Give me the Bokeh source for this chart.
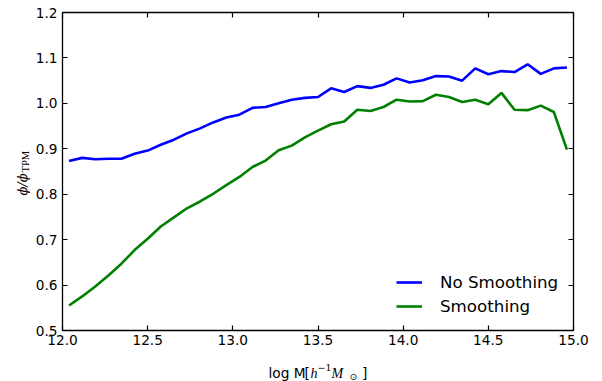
import numpy as np
from bokeh.plotting import figure
from bokeh.models import Label, LinearAxis, FixedTicker, PrintfTickFormatter, Range1d
from bokeh.embed import file_html
from bokeh.resources import INLINE

# ---- data ----
n_bins = 39
log_mass = [12 + (i + 0.5) * 3.0 / n_bins for i in range(n_bins)]
no_smoothing = [0.873, 0.880, 0.877, 0.878, 0.878, 0.889, 0.896, 0.909, 0.920, 0.934,
                0.945, 0.958, 0.969, 0.975, 0.990, 0.992, 1.000, 1.008, 1.012, 1.014,
                1.033, 1.025, 1.038, 1.034, 1.041, 1.055, 1.046, 1.051, 1.060, 1.059,
                1.050, 1.077, 1.064, 1.071, 1.069, 1.086, 1.065, 1.077, 1.079]
smoothing = [0.555, 0.575, 0.597, 0.621, 0.647, 0.677, 0.702, 0.729, 0.749, 0.769,
             0.784, 0.801, 0.820, 0.838, 0.860, 0.874, 0.897, 0.907, 0.925, 0.940,
             0.954, 0.960, 0.986, 0.983, 0.992, 1.008, 1.004, 1.005, 1.019, 1.014,
             1.003, 1.008, 0.998, 1.023, 0.986, 0.985, 0.995, 0.981, 0.898]
x_ticks = [12.0, 12.5, 13.0, 13.5, 14.0, 14.5, 15.0]
y_ticks = [0.5, 0.6, 0.7, 0.8, 0.9, 1.0, 1.1, 1.2]
x_lim = (12.0, 15.0)
y_lim = (0.5, 1.2)
series_names = ["No Smoothing", "Smoothing"]
series_colors = ["#0000ff", "#008000"]

# ---- layout (pixels) ----
W, H = 602, 381
FL, FR, FT, FB = 62, 573, 12, 330   # axes box edges on the canvas
sx = (x_lim[1] - x_lim[0]) / (FR - FL)
sy = (y_lim[1] - y_lim[0]) / (FB - FT)
x_range = Range1d(x_lim[0] - FL * sx, x_lim[1] + (W - FR) * sx)
y_range = Range1d(y_lim[0] - (H - FB) * sy, y_lim[1] + FT * sy)

p = figure(width=W, height=H, x_range=x_range, y_range=y_range,
           output_backend="svg", toolbar_location=None, min_border=0)
p.xgrid.visible = False
p.ygrid.visible = False
p.outline_line_color = None
p.background_fill_color = "white"
p.border_fill_color = "white"

p.add_layout(LinearAxis(), "above")
p.add_layout(LinearAxis(), "right")

ax_b, ax_t, ax_l, ax_r = p.below[0], p.above[0], p.left[0], p.right[0]
ax_b.fixed_location = y_lim[0]
ax_t.fixed_location = y_lim[1]
ax_l.fixed_location = x_lim[0]
ax_r.fixed_location = x_lim[1]

for ax in (ax_b, ax_t):
    ax.ticker = FixedTicker(ticks=x_ticks)
    ax.bounds = x_lim
for ax in (ax_l, ax_r):
    ax.ticker = FixedTicker(ticks=y_ticks)
    ax.bounds = y_lim

for ax in (ax_b, ax_t, ax_l, ax_r):
    ax.formatter = PrintfTickFormatter(format="%.1f")
    ax.major_tick_in = 5
    ax.major_tick_out = 0
    ax.minor_tick_line_color = None
    ax.axis_line_color = "black"
    ax.axis_line_width = 1.3
    ax.major_tick_line_color = "black"
    ax.major_tick_line_width = 1.2
    ax.major_label_text_font = "DejaVu Sans"
    ax.major_label_text_font_size = "13.7px"
    ax.major_label_text_color = "black"

ax_b.major_label_standoff = 4
ax_l.major_label_standoff = 5
for ax in (ax_t, ax_r):
    ax.major_label_text_font_size = "1px"
    ax.major_label_text_color = None
    ax.major_label_standoff = 0

p.line(log_mass, no_smoothing, color=series_colors[0], line_width=2.6, legend_label=series_names[0])
p.line(log_mass, smoothing, color=series_colors[1], line_width=2.6, legend_label=series_names[1])

lg = p.legend[0]
lg.location = (396, H - 318)
lg.border_line_alpha = 0
lg.background_fill_alpha = 0
lg.padding = 0
lg.margin = 0
lg.spacing = 0
lg.glyph_width = 26
lg.glyph_height = 24
lg.label_height = 24
lg.label_standoff = 18
lg.label_text_font = "DejaVu Sans"
lg.label_text_font_size = "16.7px"
lg.label_text_color = "black"


def put(text, X, Y, font="DejaVu Sans", size="13.7px", style="normal", angle=0.0):
    # X, Y: canvas pixel position (from top-left) of the text's left end on its baseline
    p.add_layout(Label(x=X, y=H - Y, x_units="screen", y_units="screen", text=text,
                       text_font=font, text_font_size=size, text_font_style=style,
                       text_align="left", text_baseline="alphabetic", angle=angle,
                       text_color="black"))

# x-axis label: log M [h^{-1} M_sun]
put("log M", 268, 372.5)
put("[", 304, 372.5)
put("h", 310, 372.5, font="Liberation Serif", size="14px", style="italic")
put("\u22121", 317, 367, font="DejaVu Serif", size="9.5px")
put("M", 331, 372.5, font="Liberation Serif", size="14px", style="italic")
put("\u2299", 349, 375.5, font="DejaVu Sans", size="9.5px")
put("]", 361.5, 372.5)

# y-axis label: phi / phi_TPM (rotated)
put("\u03d5/\u03d5", 22, 195, font="DejaVu Serif", size="13px", style="italic", angle=np.pi / 2)
put("TPM", 25, 172, font="Liberation Serif", size="10.5px", angle=np.pi / 2)

open("out.html", "w").write(file_html(p, INLINE))
